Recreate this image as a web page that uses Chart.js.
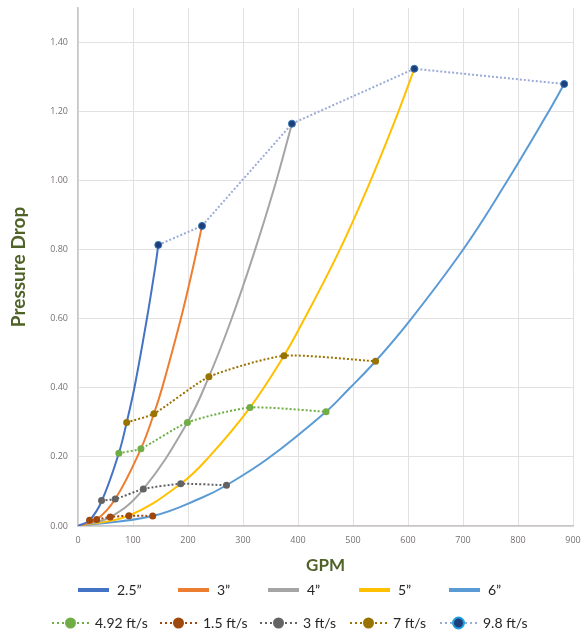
<!DOCTYPE html>
<html>
<head>
<meta charset="utf-8">
<script src="https://cdn.jsdelivr.net/npm/chart.js@4.4.1/dist/chart.umd.min.js"></script>
<style>
  html, body { margin: 0; padding: 0; background: #fff; }
</style>
</head>
<body>
<canvas id="myChart" width="584" height="635"></canvas>
<script>
// pipe size curves (GPM vs pressure drop)
const pipeSizes = ['2.5\u201d', '3\u201d', '4\u201d', '5\u201d', '6\u201d'];
const pipeColors = ['#4472c4', '#ed7d31', '#a5a5a5', '#ffc000', '#5b9bd5'];

const gpm25 = [0, 21, 42.8, 74.3, 88.5, 103, 125, 140.6, 146];
const pd25  = [0, 0.017, 0.071, 0.211, 0.300, 0.404, 0.598, 0.752, 0.814];
const gpm3  = [0, 34, 67.7, 114.4, 138, 153, 186, 209, 225.5];
const pd3   = [0, 0.019, 0.078, 0.224, 0.325, 0.4, 0.594, 0.748, 0.869];
const gpm4  = [0, 58.6, 118.8, 199, 238, 277, 319, 357, 389];
const pd4   = [0, 0.026, 0.107, 0.3, 0.432, 0.59, 0.785, 0.98, 1.165];
const gpm5  = [0, 92.6, 186.7, 237, 312.7, 374.5, 410, 473, 528, 579, 611.5];
const pd5   = [0, 0.030, 0.122, 0.198, 0.343, 0.493, 0.595, 0.79, 0.985, 1.185, 1.324];
const gpm6  = [0, 135.8, 224, 270, 346, 451, 492, 541, 603, 700, 773, 852, 884];
const pd6   = [0, 0.029, 0.081, 0.118, 0.196, 0.331, 0.396, 0.477, 0.594, 0.8, 0.98, 1.19, 1.28];

// velocity lines (one point per pipe size)
const velocities = ['4.92 ft/s', '1.5 ft/s', '3 ft/s', '7 ft/s', '9.8 ft/s'];
const velColors = ['#70ad47', '#9e480e', '#636363', '#997300', '#1f3f7a'];
const velLineColors = ['#70ad47', '#9e480e', '#636363', '#997300', '#9aabd6'];

const gpmV492 = [74.3, 114.4, 199, 312.7, 451];
const pdV492  = [0.211, 0.224, 0.300, 0.343, 0.331];
const gpmV15  = [21, 34, 58.6, 92.6, 135.8];
const pdV15   = [0.017, 0.019, 0.026, 0.030, 0.029];
const gpmV3   = [42.8, 67.7, 118.8, 186.7, 270];
const pdV3    = [0.074, 0.078, 0.107, 0.122, 0.118];
const gpmV7   = [88.5, 138, 238, 374.5, 541];
const pdV7    = [0.300, 0.325, 0.432, 0.493, 0.477];
const gpmV98  = [146, 225.5, 389, 611.5, 884];
const pdV98   = [0.814, 0.869, 1.165, 1.324, 1.28];

const xTicks = [0, 100, 200, 300, 400, 500, 600, 700, 800, 900];
const yTicks = [0, 0.2, 0.4, 0.6, 0.8, 1.0, 1.2, 1.4];

const toPts = (xs, ys) => xs.map((x, i) => ({ x: x, y: ys[i] }));

const pipeData = [[gpm25, pd25], [gpm3, pd3], [gpm4, pd4], [gpm5, pd5], [gpm6, pd6]];
const velData = [[gpmV492, pdV492], [gpmV15, pdV15], [gpmV3, pdV3], [gpmV7, pdV7], [gpmV98, pdV98]];

const datasets = [];
pipeSizes.forEach((name, i) => {
    datasets.push({
        label: name,
        data: toPts(pipeData[i][0], pipeData[i][1]),
        showLine: true,
        borderColor: pipeColors[i],
        backgroundColor: pipeColors[i],
        borderWidth: 2,
        pointRadius: 0,
        tension: 0.4,
        order: 2,
    });
});
velocities.forEach((name, i) => {
    datasets.push({
        label: name,
        data: toPts(velData[i][0], velData[i][1]),
        showLine: true,
        borderColor: velLineColors[i],
        backgroundColor: velColors[i],
        borderWidth: 2,
        borderDash: [2, 2],
        tension: i === 4 ? 0 : 0.2,
        pointRadius: 3.5,
        pointBorderWidth: i === 4 ? 1 : 0,
        pointBorderColor: i === 4 ? '#2e75b6' : velColors[i],
        pointBackgroundColor: velColors[i],
        order: 1,
    });
});

// two-row legend below the plot, like the original
const rowLegend = {
    id: 'rowLegend',
    afterDraw(chart) {
        const ctx = chart.ctx;
        const ds = chart.data.datasets;
        ctx.save();
        ctx.font = '14px Lato';
        ctx.textBaseline = 'middle';
        ctx.textAlign = 'left';

        const row1 = [78, 178, 268, 359, 449];
        pipeSizes.forEach((name, i) => {
            const x = row1[i], y = 590;
            ctx.setLineDash([]);
            ctx.strokeStyle = ds[i].borderColor;
            ctx.lineWidth = 4;
            ctx.beginPath();
            ctx.moveTo(x, y);
            ctx.lineTo(x + 31, y);
            ctx.stroke();
            ctx.fillStyle = '#262626';
            ctx.fillText(name, x + 39, y);
        });

        const row2 = [52, 160, 260, 350, 440];
        velocities.forEach((name, i) => {
            const d = ds[5 + i];
            const x = row2[i], y = 623;
            ctx.setLineDash([2, 3]);
            ctx.strokeStyle = d.borderColor;
            ctx.lineWidth = 2;
            ctx.beginPath();
            ctx.moveTo(x, y);
            ctx.lineTo(x + 37, y);
            ctx.stroke();
            ctx.setLineDash([]);
            ctx.beginPath();
            ctx.arc(x + 18.5, y, 5.5, 0, Math.PI * 2);
            ctx.fillStyle = velColors[i];
            ctx.fill();
            if (i === 4) {
                ctx.lineWidth = 2;
                ctx.strokeStyle = '#1fa0e0';
                ctx.stroke();
            }
            ctx.fillStyle = '#262626';
            ctx.fillText(name, x + 43, y);
        });
        ctx.restore();
    }
};

const config = {
    type: 'scatter',
    data: { datasets },
    options: {
        responsive: false,
        animation: false,
        layout: { padding: { top: 8, right: 11, bottom: 59, left: 0 } },
        plugins: {
            legend: { display: false },
            tooltip: { enabled: false },
        },
        scales: {
            x: {
                type: 'linear',
                min: 0,
                max: 900,
                afterBuildTicks: (s) => { s.ticks = xTicks.map(v => ({ value: v })); },
                afterFit: (s) => { s.height = 50; s.paddingLeft = 0; s.paddingRight = 0; },
                ticks: {
                    padding: 9,
                    color: '#767171',
                    font: { family: 'Open Sans', size: 9 },
                },
                grid: { color: '#e2e0e0', drawTicks: false },
                border: { color: '#c9c5c5', width: 1.5 },
                title: {
                    display: true,
                    text: 'GPM',
                    color: '#4f6228',
                    font: { family: 'Lato', size: 17, weight: 'bold' },
                    padding: { top: 0, bottom: 0 },
                },
            },
            y: {
                min: 0,
                max: 1.5,
                afterBuildTicks: (s) => { s.ticks = yTicks.map(v => ({ value: v })); },
                afterFit: (s) => { s.width = 78; s.paddingTop = 0; s.paddingBottom = 0; },
                ticks: {
                    padding: 10,
                    color: '#767171',
                    font: { family: 'Open Sans', size: 9 },
                    callback: (v) => v.toFixed(2),
                },
                grid: { color: '#e2e0e0', drawTicks: false },
                border: { color: '#c9c5c5', width: 1.5 },
                title: {
                    display: true,
                    text: 'Pressure Drop',
                    color: '#4f6228',
                    font: { family: 'Lato', size: 19, weight: 'bold' },
                    padding: { top: 7, bottom: 0 },
                },
            },
        },
    },
    plugins: [rowLegend],
};

const myChart = new Chart(document.getElementById('myChart'), config);
</script>
</body>
</html>
